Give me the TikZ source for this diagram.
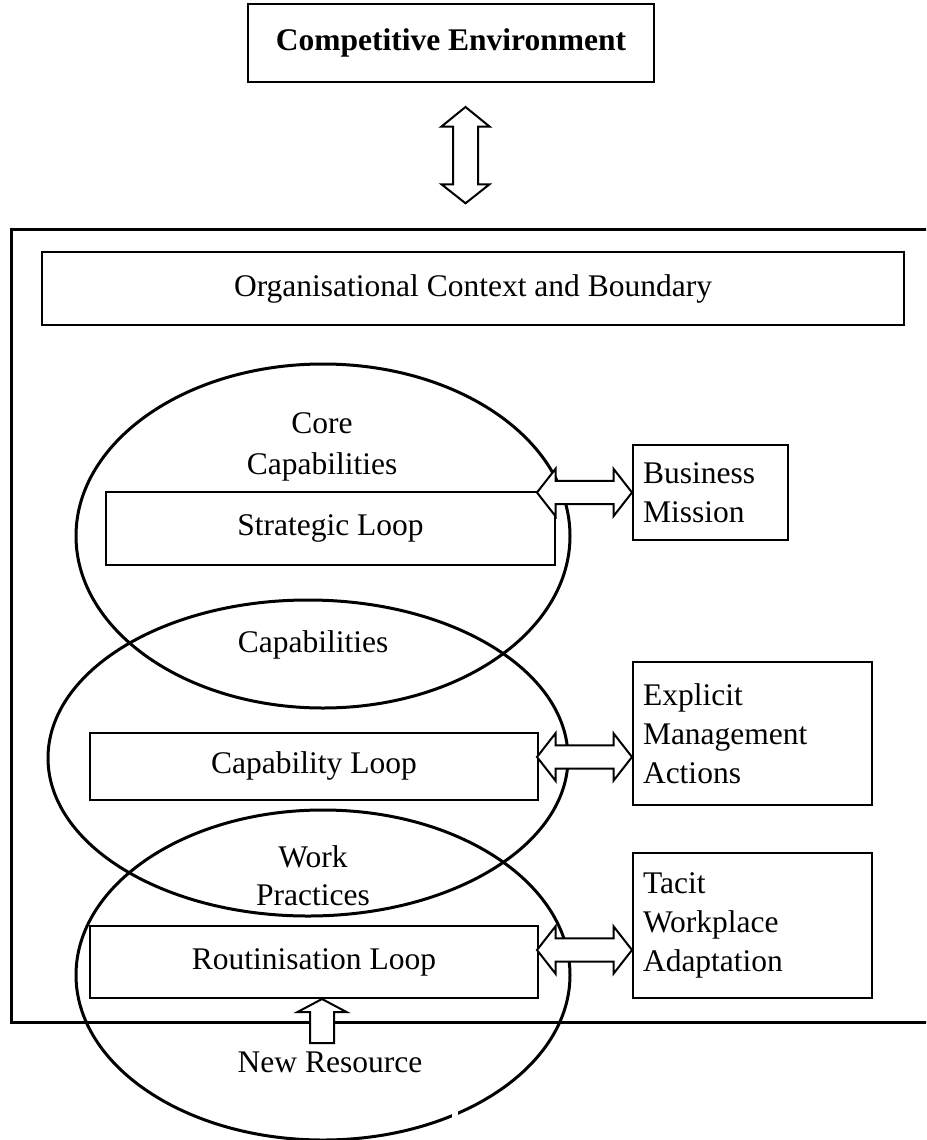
\documentclass[tikz,border=0pt]{standalone}
\usepackage{fontspec}
\setmainfont{Liberation Serif}
\usetikzlibrary{calc}
\tikzset{
  txt/.style={font=\fontsize{31.5}{39}\selectfont},
  box/.style={txt, draw=black, line width=2pt, fill=white, rectangle, inner sep=0pt, align=center},
  rbox/.style={txt, draw=black, line width=2pt, fill=white, rectangle, inner xsep=10pt, inner ysep=0pt, align=left},
  lbl/.style={font=\fontsize{31.5}{40.5}\selectfont, align=center, inner sep=0pt},
  oval/.style={draw=black, line width=3pt},
  blockarrow/.style={draw=black, line width=2pt, fill=white, line join=miter},
}
\newcommand\hdblarrow[2]{\draw[blockarrow] (#1) -- ($(#1)+(18.5,-23.7)$) -- ($(#1)+(18.5,-11.7)$) -- ($(#2)+(-18.5,-11.7)$) -- ($(#2)+(-18.5,-23.7)$) -- (#2) -- ($(#2)+(-18.5,23.7)$) -- ($(#2)+(-18.5,11.7)$) -- ($(#1)+(18.5,11.7)$) -- ($(#1)+(18.5,23.7)$) -- cycle;}
\newcommand\vdblarrow[2]{\draw[blockarrow] (#1) -- ($(#1)+(24,19.5)$) -- ($(#1)+(12.5,19.5)$) -- ($(#2)+(12.5,-19)$) -- ($(#2)+(24,-19)$) -- (#2) -- ($(#2)+(-24,-19)$) -- ($(#2)+(-12.5,-19)$) -- ($(#1)+(-12.5,19.5)$) -- ($(#1)+(-24,19.5)$) -- cycle;}
\begin{document}
\begin{tikzpicture}[x=1pt,y=-1pt]
\useasboundingbox (0,0) rectangle (926,1140);
\clip (0,0) rectangle (926,1140);
\fill[white] (0,0) rectangle (926,1140);

% top box
\node[box, font=\fontsize{31.5}{39}\selectfont\bfseries, minimum width=406, minimum height=78] (ce) at (451,43) {Competitive Environment};

% outer boundary
\draw[line width=3pt] (11,229) rectangle (945,1022);
\node[box, minimum width=862, minimum height=73] (org) at (473,288.5) {Organisational Context and Boundary};

% ellipses
\draw[oval] (323,536) ellipse [x radius=247, y radius=172];
\draw[oval] (308,758) ellipse [x radius=260, y radius=158];
\draw[oval] (323,975) ellipse [x radius=247, y radius=165];
\fill[white] (452,1108) rectangle (458,1126);

% loop boxes
\node[box, minimum width=449, minimum height=73] (sl) at (330.5,528.5) {Strategic Loop};
\node[box, minimum width=448, minimum height=67] (cl) at (314,766) {Capability Loop};
\node[box, minimum width=448, minimum height=72] (rl) at (314,962) {Routinisation Loop};

% right boxes
\node[rbox, text width=135, minimum height=95] (bm) at (710.5,492.5) {Business\\Mission};
\node[rbox, text width=219, minimum height=143] (ema) at (752.5,733.5) {Explicit\\Management\\Actions};
\node[rbox, text width=219, minimum height=145] (twa) at (752.5,925.5) {Tacit\\Workplace\\Adaptation};

% ellipse labels
\node[lbl] (cc) at (322,447) {Core\\Capabilities};
\node[lbl] (cap) at (313,645) {Capabilities};
\node[lbl, font=\fontsize{31.5}{38}\selectfont] (wp) at (313,876) {Work\\Practices};
\node[lbl] (nr) at (330,1062) {New Resource};

% arrows
\coordinate (v1) at (465.5,107);
\coordinate (v2) at (465.5,203.3);
\vdblarrow{v1}{v2}

\coordinate (a1) at (537,492.5);
\coordinate (a1r) at (bm.west |- a1);
\hdblarrow{a1}{a1r}
\coordinate (a2) at (537,757);
\coordinate (a2r) at (ema.west |- a2);
\hdblarrow{a2}{a2r}
\coordinate (a3) at (537,950);
\coordinate (a3r) at (twa.west |- a3);
\hdblarrow{a3}{a3r}

\coordinate (u1) at (rl.south -| 322,0);
\coordinate (u2) at (322,1043);
\draw[blockarrow] (u1) -- ($(u1)+(24.5,13)$) -- ($(u1)+(12,13)$) -- ($(u2)+(12,0)$) -- ($(u2)+(-12,0)$) -- ($(u1)+(-12,13)$) -- ($(u1)+(-24.5,13)$) -- cycle;
\end{tikzpicture}
\end{document}
